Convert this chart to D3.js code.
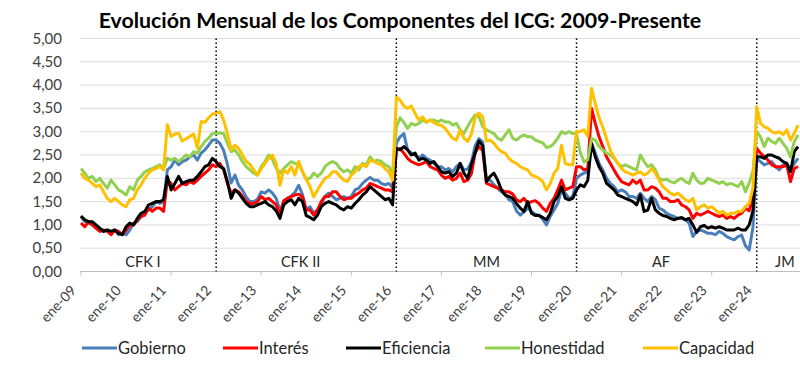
<!DOCTYPE html>
<html lang="es">
<head>
  <meta charset="UTF-8">
  <title>Evolución Mensual de los Componentes del ICG</title>
  <script src="https://cdn.jsdelivr.net/npm/d3@7/dist/d3.min.js"></script>
  <style>
    * { margin: 0; padding: 0; }
    body { background: #fff; width: 800px; height: 373px; overflow: hidden; }
    svg { display: block; font-family: Lato, "Open Sans", sans-serif; }
  </style>
</head>
<body>
  <div id="chart"></div>
  <script>
  // series, one value per month, ene-09 .. dic-24
  var gobierno = [
    1.18,1.07,1.04,1.00,0.93,0.89,0.86,0.89,0.82,0.89,0.79,0.82,
    0.79,0.89,1.04,1.07,1.18,1.25,1.32,1.39,1.50,1.46,1.50,2.18,
    2.25,2.39,2.29,2.36,2.39,2.46,2.50,2.39,2.54,2.61,2.71,2.82,
    2.82,2.75,2.60,2.30,1.90,2.07,1.85,1.75,1.60,1.50,1.50,1.55,
    1.71,1.68,1.75,1.68,1.57,1.30,1.50,1.57,1.62,1.70,1.85,1.65,
    1.32,1.39,1.25,1.32,1.46,1.61,1.68,1.61,1.54,1.57,1.61,1.57,
    1.61,1.75,1.79,1.89,1.96,2.02,1.96,1.96,1.89,1.86,1.89,1.80,
    2.75,2.89,2.96,2.61,2.54,2.50,2.43,2.50,2.43,2.39,2.32,2.25,
    2.25,2.18,2.21,2.14,2.25,2.32,2.18,2.20,2.35,2.70,2.85,2.78,
    1.95,1.96,1.86,1.79,1.71,1.66,1.54,1.50,1.30,1.21,1.28,1.36,
    1.29,1.23,1.21,1.12,1.00,1.18,1.32,1.46,1.75,1.68,1.57,1.61,
    2.00,2.07,2.11,2.14,2.75,2.54,2.32,2.18,2.00,1.89,1.82,1.71,
    1.75,1.71,1.61,1.61,1.57,1.68,1.57,1.50,1.61,1.54,1.36,1.32,
    1.25,1.21,1.18,1.14,1.14,1.11,1.04,0.75,0.86,0.89,0.86,0.82,
    0.82,0.79,0.86,0.82,0.75,0.71,0.68,0.75,0.78,0.55,0.46,0.95,
    2.43,2.36,2.29,2.32,2.36,2.25,2.18,2.29,2.32,2.18,2.32,2.43
  ];
  var interes = [
    1.04,0.96,1.07,1.00,0.93,0.86,0.89,0.86,0.79,0.89,0.86,0.79,
    0.89,1.00,1.00,1.11,1.18,1.21,1.36,1.29,1.36,1.36,1.29,1.96,
    1.89,1.75,1.82,1.89,1.86,1.93,1.89,1.96,2.04,2.11,2.18,2.29,
    2.25,2.32,2.18,1.89,1.68,1.75,1.71,1.61,1.50,1.46,1.46,1.50,
    1.61,1.54,1.57,1.50,1.43,1.21,1.52,1.57,1.61,1.64,1.66,1.60,
    1.32,1.32,1.21,1.32,1.50,1.61,1.61,1.71,1.71,1.61,1.54,1.57,
    1.57,1.64,1.68,1.75,1.79,1.89,1.86,1.82,1.79,1.75,1.75,1.71,
    2.61,2.64,2.54,2.43,2.36,2.32,2.29,2.32,2.36,2.25,2.21,2.18,
    2.07,2.00,2.04,1.96,2.00,2.11,1.93,1.96,2.10,2.55,2.68,2.60,
    1.89,1.86,1.82,1.79,1.75,1.71,1.71,1.66,1.54,1.50,1.57,1.46,
    1.50,1.52,1.46,1.36,1.29,1.46,1.57,1.75,1.96,1.75,1.79,1.82,
    2.25,2.25,2.18,2.21,3.50,3.18,2.89,2.68,2.46,2.32,2.18,2.04,
    1.93,1.89,1.86,1.96,1.89,1.96,1.75,1.75,1.82,1.79,1.71,1.57,
    1.57,1.50,1.50,1.54,1.43,1.39,1.32,1.14,1.25,1.21,1.25,1.29,
    1.25,1.21,1.18,1.21,1.14,1.18,1.14,1.21,1.25,1.36,1.30,1.60,
    2.64,2.54,2.47,2.39,2.29,2.25,2.25,2.25,2.29,1.93,2.21,2.25
  ];
  var eficiencia = [
    1.19,1.11,1.07,1.07,1.00,0.93,0.86,0.89,0.86,0.89,0.82,0.79,
    0.96,1.04,1.00,1.14,1.25,1.29,1.43,1.46,1.50,1.50,1.54,2.04,
    1.75,1.89,2.04,1.89,1.93,1.96,1.96,2.04,2.14,2.25,2.29,2.43,
    2.36,2.25,2.21,1.93,1.57,1.75,1.68,1.57,1.46,1.39,1.39,1.43,
    1.46,1.50,1.43,1.39,1.30,1.14,1.43,1.50,1.54,1.43,1.57,1.50,
    1.20,1.16,1.11,1.21,1.39,1.46,1.50,1.46,1.43,1.36,1.32,1.39,
    1.36,1.46,1.54,1.64,1.71,1.82,1.75,1.68,1.61,1.54,1.57,1.43,
    2.64,2.61,2.68,2.61,2.50,2.54,2.39,2.43,2.39,2.32,2.36,2.25,
    2.14,2.11,2.14,2.04,2.11,2.32,2.11,2.00,2.30,2.55,2.80,2.70,
    1.93,2.04,2.11,1.96,1.75,1.64,1.61,1.57,1.46,1.36,1.29,1.50,
    1.25,1.20,1.20,1.16,1.11,1.25,1.50,1.61,1.82,1.57,1.54,1.57,
    1.75,1.86,1.82,1.96,2.75,2.46,2.25,2.11,1.89,1.82,1.75,1.64,
    1.61,1.57,1.54,1.50,1.43,1.64,1.29,1.32,1.57,1.32,1.25,1.20,
    1.18,1.14,1.11,1.14,1.16,1.11,1.14,1.00,0.84,0.96,0.99,0.93,
    0.96,0.93,0.96,0.93,0.89,0.89,0.89,0.93,0.89,0.89,1.00,1.30,
    2.46,2.46,2.43,2.50,2.50,2.46,2.43,2.36,2.32,2.14,2.57,2.68
  ];
  var honestidad = [
    2.21,2.11,2.00,2.04,1.93,2.00,1.89,1.79,1.96,1.86,1.75,1.71,
    1.64,1.82,1.75,1.96,2.04,2.14,2.18,2.21,2.25,2.29,2.21,2.43,
    2.39,2.43,2.36,2.43,2.50,2.46,2.57,2.54,2.68,2.79,2.86,2.96,
    2.96,2.97,2.96,2.75,2.57,2.61,2.50,2.36,2.25,2.18,2.11,2.07,
    2.25,2.36,2.50,2.40,2.22,2.11,2.21,2.29,2.36,2.32,2.32,2.14,
    1.98,2.00,2.11,2.04,2.11,2.25,2.32,2.36,2.32,2.21,2.14,2.18,
    2.11,2.25,2.18,2.32,2.29,2.46,2.36,2.39,2.36,2.29,2.25,2.10,
    3.10,3.30,3.20,3.07,3.18,3.14,3.18,3.25,3.21,3.25,3.25,3.21,
    3.25,3.21,3.21,3.14,3.18,3.04,2.96,3.11,3.25,3.36,3.32,3.11,
    3.04,3.00,2.96,2.86,2.82,2.93,3.04,2.86,2.82,2.89,2.93,2.89,
    2.89,2.82,2.79,2.76,2.66,2.68,2.75,2.86,3.00,2.96,3.00,2.96,
    2.96,2.55,2.35,2.40,2.86,2.82,2.68,2.61,2.54,2.50,2.43,2.32,
    2.25,2.29,2.25,2.21,2.18,2.50,2.36,2.25,2.29,2.18,2.00,1.96,
    1.98,1.93,1.90,1.96,2.00,1.93,1.89,2.11,1.96,1.89,1.90,2.00,
    1.96,1.93,1.89,1.93,1.86,1.89,1.86,1.82,1.93,1.71,1.90,2.15,
    3.00,2.89,2.68,2.86,2.79,2.75,2.86,2.75,2.64,2.46,2.79,2.93
  ];
  var capacidad = [
    2.11,2.00,1.96,1.89,1.82,1.86,1.71,1.57,1.50,1.57,1.50,1.43,
    1.39,1.54,1.57,1.75,1.86,2.00,2.11,2.18,2.21,2.25,2.18,3.15,
    2.90,2.95,2.97,2.80,2.85,2.90,2.95,2.65,3.22,3.20,3.30,3.38,
    3.39,3.43,3.25,2.96,2.61,2.71,2.64,2.50,2.36,2.30,2.18,2.07,
    2.20,2.32,2.43,2.50,2.32,1.85,2.18,2.11,2.25,2.07,2.36,2.14,
    1.98,1.82,1.60,1.75,1.88,2.00,2.04,2.14,2.14,2.04,1.96,1.93,
    2.07,2.14,2.25,2.29,2.25,2.39,2.36,2.32,2.29,2.21,2.14,1.96,
    3.74,3.68,3.55,3.50,3.55,3.39,3.25,3.32,3.20,3.25,3.20,3.15,
    3.14,3.07,2.96,2.86,2.82,3.04,2.86,2.79,2.95,3.30,3.40,3.32,
    2.80,2.82,2.75,2.64,2.57,2.54,2.43,2.36,2.32,2.25,2.21,2.18,
    2.07,2.04,2.00,1.93,1.75,1.89,2.11,2.21,2.71,2.32,2.29,2.29,
    3.00,3.00,3.04,2.90,3.93,3.60,3.30,3.10,2.85,2.60,2.45,2.32,
    2.21,2.14,2.11,2.07,2.11,2.14,2.07,2.11,2.21,2.11,1.96,1.82,
    1.75,1.68,1.64,1.68,1.61,1.54,1.50,1.57,1.32,1.39,1.43,1.36,
    1.39,1.32,1.25,1.29,1.21,1.25,1.25,1.29,1.29,1.39,1.46,1.80,
    3.54,3.18,3.11,3.07,3.00,2.97,3.00,2.93,3.04,2.82,2.97,3.14
  ];

  var seriesNames = ["Gobierno", "Interés", "Eficiencia", "Honestidad", "Capacidad"];
  var seriesColors = ["#4a7ebb", "#ff0000", "#000000", "#92d050", "#ffc000"];
  var seriesValues = [gobierno, interes, eficiencia, honestidad, capacidad];

  var xLabels = ["ene-09","ene-10","ene-11","ene-12","ene-13","ene-14","ene-15","ene-16",
                 "ene-17","ene-18","ene-19","ene-20","ene-21","ene-22","ene-23","ene-24"];
  var yTicks = [0, 0.5, 1, 1.5, 2, 2.5, 3, 3.5, 4, 4.5, 5];

  // government periods: divider months and label anchor months
  var periodNames = ["CFK I", "CFK II", "MM", "AF", "JM"];
  var periodLabelAt = [16.5, 58.5, 108, 154.5, 187.5];
  var dividers = [36, 84, 132, 180];

  var width = 800, height = 373;
  var svg = d3.select("#chart").append("svg")
      .attr("width", width)
      .attr("height", height);

  var n = gobierno.length;
  var x = d3.scaleLinear().domain([0, n - 1]).range([81, 81 + 3.754 * (n - 1)]);
  var y = d3.scaleLinear().domain([0, 5]).range([271.5, 38.5]);

  var loc = d3.formatLocale({decimal: ",", thousands: ".", grouping: [3], currency: ["$", ""]});
  var fmt = loc.format(".2f");

  // title
  svg.append("text")
    .attr("x", 400)
    .attr("y", 28)
    .attr("text-anchor", "middle")
    .style("font-size", "21.3px")
    .style("font-weight", "bold")
    .attr("fill", "#000")
    .text("Evolución Mensual de los Componentes del ICG: 2009-Presente");

  // grid
  svg.append("g").selectAll("line")
    .data(yTicks.filter(function (d) { return d > 0; }))
    .enter().append("line")
      .attr("x1", 80).attr("x2", width)
      .attr("y1", function (d) { return y(d); })
      .attr("y2", function (d) { return y(d); })
      .attr("stroke", "#dcdcdc")
      .attr("stroke-width", 1);

  // y labels
  svg.append("g").selectAll("text")
    .data(yTicks)
    .enter().append("text")
      .attr("x", 62)
      .attr("y", function (d) { return y(d) + 5; })
      .attr("text-anchor", "end")
      .style("font-size", "15px")
      .attr("fill", "#404040")
      .text(function (d) { return fmt(d); });

  // x axis
  svg.append("line")
    .attr("x1", 80).attr("x2", width)
    .attr("y1", y(0)).attr("y2", y(0))
    .attr("stroke", "#bfbfbf")
    .attr("stroke-width", 1);

  svg.append("g").selectAll("line")
    .data(d3.range(0, n, 24))
    .enter().append("line")
      .attr("x1", function (d) { return x(d); })
      .attr("x2", function (d) { return x(d); })
      .attr("y1", y(0)).attr("y2", y(0) + 4)
      .attr("stroke", "#bfbfbf");

  svg.append("g").selectAll("text")
    .data(xLabels)
    .enter().append("text")
      .attr("text-anchor", "end")
      .attr("transform", function (d, i) {
        return "translate(" + (x(i * 12) - 4) + "," + 291 + ") rotate(-47)";
      })
      .style("font-size", "14px")
      .attr("fill", "#404040")
      .text(function (d) { return d; });

  // period dividers
  svg.append("g").selectAll("line")
    .data(dividers)
    .enter().append("line")
      .attr("x1", function (d) { return x(d); })
      .attr("x2", function (d) { return x(d); })
      .attr("y1", y(5))
      .attr("y2", y(0))
      .attr("stroke", "#000")
      .attr("stroke-width", 1.5)
      .attr("stroke-dasharray", "1.5,2.5");

  svg.append("g").selectAll("text")
    .data(periodNames)
    .enter().append("text")
      .attr("x", function (d, i) { return x(periodLabelAt[i]); })
      .attr("y", 267)
      .attr("text-anchor", "middle")
      .style("font-size", "14.5px")
      .attr("fill", "#262626")
      .text(function (d) { return d; });

  // lines
  var line = d3.line()
    .x(function (d, i) { return x(i); })
    .y(function (d) { return y(d); });

  svg.append("g").selectAll("path")
    .data(seriesValues)
    .enter().append("path")
      .attr("d", line)
      .attr("fill", "none")
      .attr("stroke", function (d, i) { return seriesColors[i]; })
      .attr("stroke-width", 3)
      .attr("stroke-linejoin", "round");

  // legend
  var legendX = [82, 223, 346, 485, 643];
  var legend = svg.append("g").selectAll("g")
    .data(seriesNames)
    .enter().append("g")
      .attr("transform", function (d, i) { return "translate(" + legendX[i] + ",348)"; });
  legend.append("line")
    .attr("x1", 0).attr("x2", 35)
    .attr("y1", 0).attr("y2", 0)
    .attr("stroke", function (d, i) { return seriesColors[i]; })
    .attr("stroke-width", 3);
  legend.append("text")
    .attr("x", 36)
    .attr("y", 6)
    .style("font-size", "16.5px")
    .attr("fill", "#262626")
    .text(function (d) { return d; });
  </script>
</body>
</html>
